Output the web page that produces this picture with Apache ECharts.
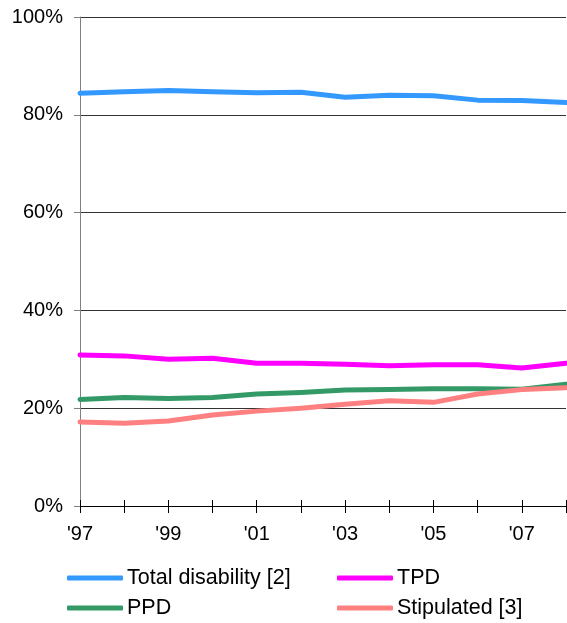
<!DOCTYPE html>
<html><head><meta charset="utf-8">
<script src="https://cdn.jsdelivr.net/npm/echarts@6/dist/echarts.min.js"></script>
<style>html,body{margin:0;padding:0;background:#fff}#c{width:567px;height:623px}</style>
</head><body><div id="c"></div>
<script>
const years = ["'97","'98","'99","'00","'01","'02","'03","'04","'05","'06","'07","'08"];
const totalDisability = [84.4,84.7,84.95,84.7,84.5,84.6,83.6,84.0,83.9,83.0,82.9,82.5];
const tpd = [30.9,30.7,30.0,30.2,29.2,29.2,29.0,28.7,28.9,28.9,28.2,29.2];
const ppd = [21.8,22.2,22.0,22.2,22.9,23.2,23.7,23.8,24.0,24.0,23.9,24.9];
const stipulated = [17.2,16.9,17.4,18.6,19.4,20.0,20.8,21.5,21.2,22.9,23.8,24.2];
const yTicks = [0,20,40,60,80,100];

const font = 'Arial, "Liberation Sans", sans-serif';
const chart = echarts.init(document.getElementById('c'));
function line(name, data, color){
  return {name, type:'line', data, symbol:'none', lineStyle:{width:5,color,cap:'round',join:'round'}, itemStyle:{color}, animation:false};
}
chart.setOption({
  animation:false,
  grid:{left:80,right:1,top:17,bottom:117,containLabel:false},
  xAxis:[{
    type:'category', data:years, boundaryGap:false,
    axisLine:{lineStyle:{color:'#000',width:1}},
    axisTick:{show:true,interval:0,length:7,lineStyle:{color:'#000'}},
    axisLabel:{interval:1,color:'#000',fontSize:20,fontFamily:font,margin:18}
  },{
    type:'category', data:years, boundaryGap:false, position:'bottom',
    axisLine:{show:false},
    axisTick:{show:true,inside:true,interval:0,length:6,lineStyle:{color:'#000'}},
    axisLabel:{show:false}
  }],
  yAxis:{
    type:'value', min:yTicks[0], max:yTicks[yTicks.length-1], interval:20,
    axisLine:{show:true,lineStyle:{color:'#808080',width:1}},
    axisTick:{show:true,length:6,lineStyle:{color:'#808080'}},
    axisLabel:{formatter:'{value}%',color:'#000',fontSize:20,fontFamily:font,margin:17},
    splitLine:{show:true,lineStyle:{color:'#333',width:1}}
  },
  legend:[{
    data:['Total disability [2]','PPD'], orient:'vertical', left:67, top:567,
    itemWidth:56, itemHeight:5, itemGap:8, icon:'roundRect',
    textStyle:{fontSize:21.5,fontFamily:font,color:'#000',padding:[0,0,0,-1]}, padding:0
  },{
    data:['TPD','Stipulated [3]'], orient:'vertical', left:337, top:567,
    itemWidth:56, itemHeight:5, itemGap:8, icon:'roundRect',
    textStyle:{fontSize:21.5,fontFamily:font,color:'#000',padding:[0,0,0,-1]}, padding:0
  }],
  series:[
    line('Total disability [2]', totalDisability, '#3399FF'),
    line('TPD', tpd, '#FF00FF'),
    line('PPD', ppd, '#339966'),
    line('Stipulated [3]', stipulated, '#FF8080')
  ]
});
</script></body></html>
